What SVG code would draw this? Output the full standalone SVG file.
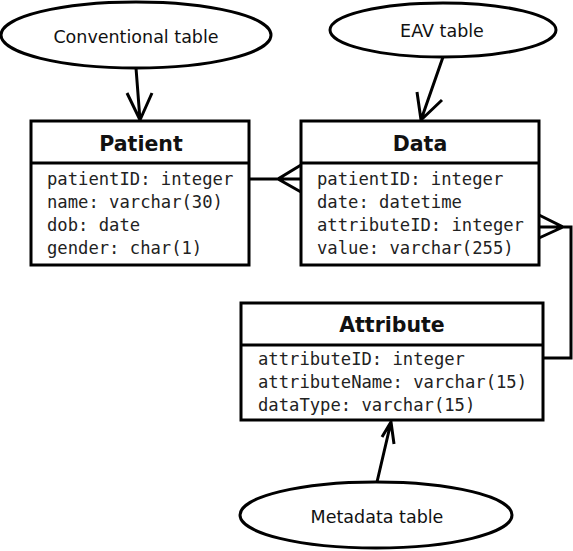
<svg xmlns="http://www.w3.org/2000/svg" width="573" height="551" viewBox="0 0 573 551">
<style>
.shape{fill:#fff;stroke:#000;stroke-width:3}
.line{fill:none;stroke:#000;stroke-width:3;stroke-linejoin:miter}
.lbl{font-family:"DejaVu Sans",sans-serif;font-size:17.5px;fill:#111;text-anchor:middle}
.ttl{font-family:"DejaVu Sans",sans-serif;font-size:20.5px;font-weight:bold;fill:#111;text-anchor:middle}
.att{font-family:"DejaVu Sans Mono",monospace;font-size:17.2px;fill:#222}
</style>
<rect width="573" height="551" fill="#fff"/>
<g id="connectors">
  <path class="line" d="M136,68 L140,120 M127,93 L140,120 L152,93"/>
  <path class="line" d="M443,57 L421,120 M417,92 L421,120 L442,100"/>
  <path class="line" d="M377,482 L391,422 M382,437 L391,422 L394,444"/>
  <path class="line" d="M249,179 L301,179 M301,165 L278,179 L301,192"/>
  <path class="line" d="M539,215 L563,227 L539,238 M539,227 L571,227 L571,358 L543,358"/>
</g>
<g id="conventional">
  <ellipse class="shape" cx="136" cy="35" rx="135" ry="33"/>
  <text class="lbl" x="136" y="43">Conventional table</text>
</g>
<g id="eav">
  <ellipse class="shape" cx="443" cy="30" rx="113" ry="27"/>
  <text class="lbl" x="442" y="37">EAV table</text>
</g>
<g id="metadata">
  <ellipse class="shape" cx="376" cy="515" rx="136" ry="33"/>
  <text class="lbl" x="377" y="523">Metadata table</text>
</g>
<g id="patient">
  <rect class="shape" x="31" y="121" width="218" height="144"/>
  <line class="line" x1="31" y1="163" x2="249" y2="163"/>
  <text class="ttl" x="141" y="151">Patient</text>
  <text class="att" x="47" y="185">patientID: integer</text>
  <text class="att" x="47" y="208">name: varchar(30)</text>
  <text class="att" x="47" y="231">dob: date</text>
  <text class="att" x="47" y="254">gender: char(1)</text>
</g>
<g id="data">
  <rect class="shape" x="301" y="121" width="238" height="144"/>
  <line class="line" x1="301" y1="163" x2="539" y2="163"/>
  <text class="ttl" x="420" y="151">Data</text>
  <text class="att" x="317" y="185">patientID: integer</text>
  <text class="att" x="317" y="208">date: datetime</text>
  <text class="att" x="317" y="231">attributeID: integer</text>
  <text class="att" x="317" y="254">value: varchar(255)</text>
</g>
<g id="attribute">
  <rect class="shape" x="241" y="303" width="302" height="117"/>
  <line class="line" x1="241" y1="345" x2="543" y2="345"/>
  <text class="ttl" x="392" y="332">Attribute</text>
  <text class="att" x="258" y="365">attributeID: integer</text>
  <text class="att" x="258" y="388">attributeName: varchar(15)</text>
  <text class="att" x="258" y="411">dataType: varchar(15)</text>
</g>
</svg>
